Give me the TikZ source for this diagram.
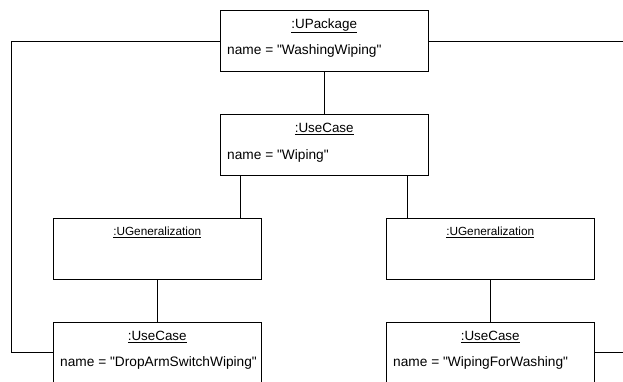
\documentclass[tikz,border=0pt]{standalone}
\usepackage{fontspec}
\setmainfont{Liberation Sans}
\newcommand{\qq}[1]{\textquotedbl#1\textquotedbl}
\begin{document}
\begin{tikzpicture}[x=1pt,y=-1pt,
  objbox/.style={draw=black, line width=0.9pt, fill=white, rectangle, inner sep=0pt,
    anchor=north west, minimum width=208.5pt, minimum height=61.5pt},
  objtitle/.style={inner sep=0pt, anchor=base, font=\fontsize{13.4}{15}\selectfont},
  gentitle/.style={inner sep=0pt, anchor=base, font=\fontsize{11.8}{14}\selectfont},
  attr/.style={inner sep=0pt, anchor=base west, font=\fontsize{13.7}{15}\selectfont},
  link/.style={draw=black, line width=0.9pt}]
\useasboundingbox (0,0) rectangle (623,381);
\clip (0,0) rectangle (623,381);

% object boxes
\node[objbox] (pkg)  at (219.5,9.5)   {};
\node[objbox] (uc)   at (219.5,113.5) {};
\node[objbox] (genL) at (52.5,217.5)  {};
\node[objbox] (genR) at (385.5,217.5) {};
\node[objbox, minimum height=100pt] (ucL) at (52.5,321.5)  {};
\node[objbox, minimum height=100pt] (ucR) at (385.5,321.5) {};

% titles and attributes
\node[objtitle] (pkgT) at ([yshift=-19pt]pkg.north) {\underline{:UPackage}};
\node[attr] (pkgA) at ([xshift=7.5pt,yshift=-44.5pt]pkg.north west) {name = \qq{WashingWiping}};
\node[objtitle] (ucT) at ([yshift=-19pt]uc.north) {\underline{:UseCase}};
\node[attr] (ucA) at ([xshift=7.5pt,yshift=-45.5pt]uc.north west) {name = \qq{Wiping}};
\node[gentitle] (genLT) at ([yshift=-17.8pt]genL.north) {\underline{:UGeneralization}};
\node[gentitle] (genRT) at ([yshift=-17.8pt]genR.north) {\underline{:UGeneralization}};
\node[objtitle] (ucLT) at ([yshift=-19pt]ucL.north) {\underline{:UseCase}};
\node[attr] (ucLA) at ([xshift=7.5pt,yshift=-45.2pt]ucL.north west) {name = \qq{DropArmSwitchWiping}};
\node[objtitle] (ucRT) at ([yshift=-19pt]ucR.north) {\underline{:UseCase}};
\node[attr] (ucRA) at ([xshift=7.5pt,yshift=-45.2pt]ucR.north west) {name = \qq{WipingForWashing}};

% links
\coordinate (rimTop) at (623,41);
\coordinate (rimBot) at (623,352.3);
\coordinate (bendTop) at (11,41);
\coordinate (bendBot) at (11,352.3);

\draw[link] (pkg.south) -- (uc.north);
\draw[link] ([xshift=20.5pt]uc.south west) -- ([xshift=20.5pt]uc.south west |- genL.north);
\draw[link] ([xshift=-21.5pt]uc.south east) -- ([xshift=-21.5pt]uc.south east |- genR.north);
\draw[link] (genL.south) -- (ucL.north);
\draw[link] (genR.south) -- (ucR.north);
\draw[link] (pkg.west |- bendTop) -- (bendTop) -- (bendBot) -- (ucL.west |- bendBot);
\draw[link] (pkg.east |- rimTop) -- (rimTop);
\draw[link] (ucR.east |- rimBot) -- (rimBot);
\end{tikzpicture}
\end{document}
